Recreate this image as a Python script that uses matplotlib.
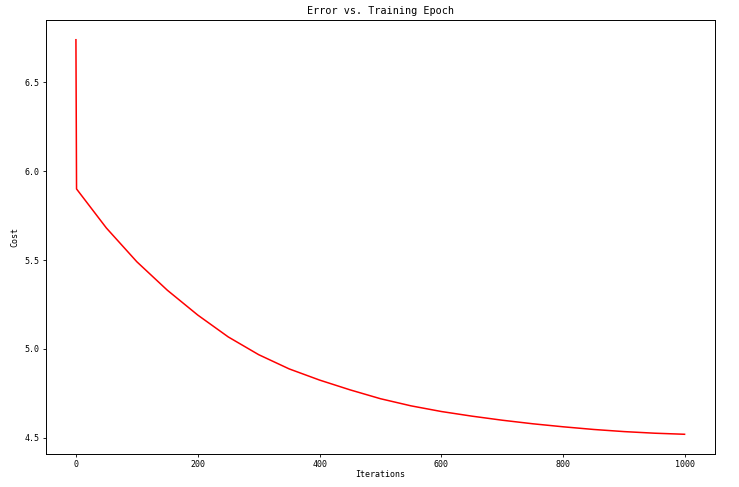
import matplotlib
matplotlib.use("Agg")
import matplotlib.pyplot as plt

iterations = [0, 1, 50, 100, 150, 200, 250, 300, 350, 400, 450, 500, 550,
              600, 650, 700, 750, 800, 850, 900, 950, 999]
cost = [6.74, 5.90, 5.68, 5.49, 5.33, 5.19, 5.067, 4.967, 4.887, 4.824,
        4.769, 4.719, 4.679, 4.647, 4.621, 4.598, 4.578, 4.561, 4.546,
        4.534, 4.525, 4.519]
title = "Error vs. Training Epoch"
xlabel = "Iterations"
ylabel = "Cost"

plt.rcParams['font.family'] = ['DejaVu Sans Mono']

fig = plt.figure(figsize=(7.39, 4.87), dpi=100)
ax = fig.add_axes([45.5/739, 33/487, (715-45.5)/739, (454-20)/487])
ax.plot(iterations, cost, color='red', linewidth=1.1)
ax.set_title(title, fontsize=7.3, pad=4)
ax.set_xlabel(xlabel, fontsize=6, labelpad=1)
ax.set_ylabel(ylabel, fontsize=6, labelpad=4)
ax.set_yticks([4.5, 5.0, 5.5, 6.0, 6.5])
ax.set_xticks([0, 200, 400, 600, 800, 1000])
ax.tick_params(labelsize=6, length=2.2, width=0.6, pad=2)
for s in ax.spines.values():
    s.set_linewidth(0.7)
fig.savefig("out.png", dpi=100)
